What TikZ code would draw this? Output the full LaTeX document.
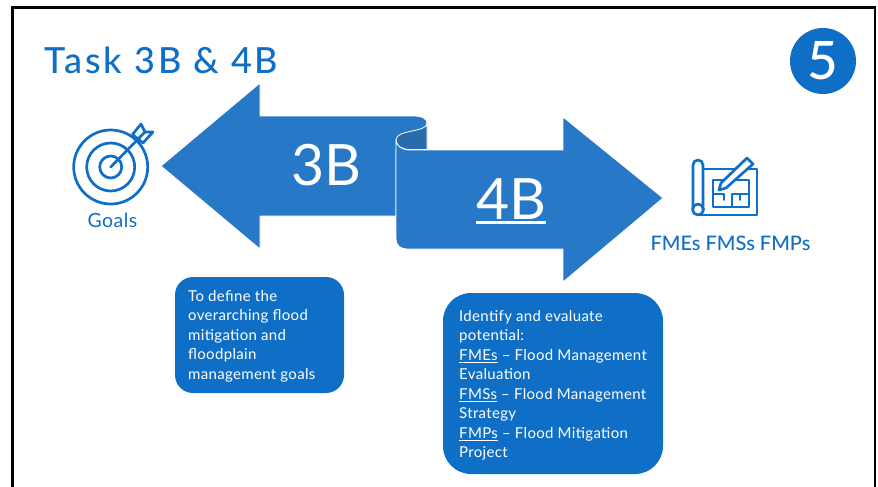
\documentclass[tikz,border=0pt]{standalone}
\usepackage{fontspec}
\setmainfont{Lato}
\newfontfamily\bodyfont[LetterSpace=2.2]{Lato}
\newfontfamily\titlefont[LetterSpace=8]{Lato Medium}
\newfontfamily\heavyfont{Lato Medium}
\definecolor{boxblue}{HTML}{0F6FC6}
\definecolor{arrowblue}{HTML}{2878C8}
\definecolor{folddark}{HTML}{2A6BAD}
\tikzset{
  shapeedge/.style={draw=white,line width=0.8pt,line join=round},
  arrowshape/.style={shapeedge,fill=arrowblue},
  iconline/.style={draw=boxblue,line width=2.7pt,line join=round,line cap=round},
  iconthin/.style={draw=boxblue,line width=1.9pt,line join=round,line cap=round},
  infobox/.style={text=white,anchor=north west,align=left,inner sep=0pt,font=\bodyfont\fontsize{15}{19.5}\selectfont},
  bluetext/.style={text=boxblue,inner sep=0pt},
  bigarrowtext/.style={text=white,inner sep=0pt,font=\fontsize{57}{60}\selectfont}
}
\begin{document}
\begin{tikzpicture}[x=1pt,y=-1pt]
\useasboundingbox (0,0) rectangle (878,487);
\fill[white] (0,0) rectangle (878,487);
% slide frame
\draw[black,line width=2.6pt] (12.5,520) -- (12.5,7.5) -- (875,7.5) -- (875,520);
% title
\node[bluetext,anchor=west,font=\titlefont\fontsize{36}{40}\selectfont] (title) at (44,60) {Task 3B \& 4B};
% badge
\node[circle,fill=boxblue,minimum size=66pt,inner sep=0pt,text=white,font=\heavyfont\fontsize{53}{55}\selectfont] (badge) at (823,61) {5};
% 3B arrow
\draw[arrowshape] (161,166) -- (260,83) -- (260,116) -- (415,116)
  .. controls (422,116) and (427,119) .. (427,123)
  -- (427,150) -- (396,150) -- (396,216) -- (260,216) -- (260,249) -- cycle;
% fold
\draw[shapeedge,fill=folddark] (427,123) .. controls (427,133) and (396,129) .. (396,140)
  .. controls (396,146) and (402,149.5) .. (410,149.5) -- (427,149.5) -- cycle;
% 4B arrow
\draw[arrowshape] (396,140) .. controls (396,146) and (402,150) .. (410,150)
  -- (563,150) -- (563,117) -- (663,198) -- (563,282) -- (563,249) -- (407,249)
  .. controls (400,249) and (396,245) .. (396,239) -- cycle;
\node[bigarrowtext] (lab3b) at (326,165) {3B};
\node[bigarrowtext] (lab4b) at (511,199) {4B};
\draw[white,line width=2.6pt] (476,222.5) -- (546,222.5);
% target icon
\draw[iconline] (110.7,167) circle (37);
\draw[iconline] (110.7,167) circle (24);
\draw[iconline] (110.7,167) circle (11);
\draw[iconline,fill=white] (132.5,134.5) -- (141,124) -- (145,132) -- (153,132) -- (143,143) -- cycle;
\draw[iconline] (110.7,167) -- (145,132);
\node[bluetext,font=\bodyfont\fontsize{19.5}{21}\selectfont] (goals) at (112.5,220) {Goals};
% plan icon
\draw[iconline] (703,169) -- (757,169) -- (757,215) -- (698,215);
\draw[iconline] (693,209) -- (693,165) arc[start angle=180,end angle=360,radius=5] -- (703,209);
\draw[iconline] (698,215) arc[start angle=90,end angle=270,radius=5.5] arc[start angle=-90,end angle=90,radius=5.5];
\draw[iconthin] (713,180) -- (726,180);
\draw[iconthin] (713,180) -- (713,207) -- (749,207) -- (749,180) -- (734,180);
\draw[iconthin] (713,194) -- (724,194) -- (724,200);
\draw[iconthin] (732,207) -- (732,194) -- (749,194);
\draw[iconthin] (740,200) -- (740,194);
\draw[iconline,fill=white] (747,158) -- (753,164) -- (726,188) -- (719,190) -- (721,183) -- cycle;
\node[bluetext,font=\heavyfont\fontsize{20}{22}\selectfont] (fm) at (730.5,243) {FMEs FMSs FMPs};
% text boxes
\fill[boxblue] (175,277) [rounded corners=18pt] rectangle (344,393);
\fill[boxblue] (443,293) [rounded corners=28pt] rectangle (663,474);
\node[infobox] (box3b) at (188,290) {To define the\\overarching flood\\mitigation and\\floodplain\\management goals};
\node[infobox] (box4b) at (459,310) {Identify and evaluate\\potential:\\\underline{FMEs} – Flood Management\\Evaluation\\\underline{FMSs} – Flood Management\\Strategy\\\underline{FMPs} – Flood Mitigation\\Project};
\end{tikzpicture}
\end{document}
